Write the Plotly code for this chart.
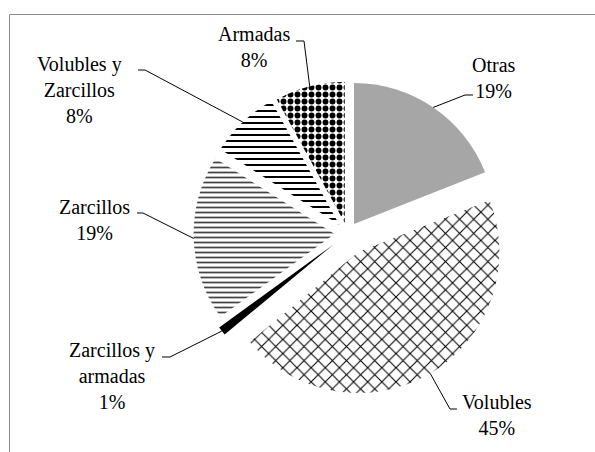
import math
import plotly.graph_objects as go

# ---- data ----
categories = ["Otras", "Volubles", "Zarcillos y armadas", "Zarcillos", "Volubles y Zarcillos", "Armadas"]
values = [19, 45, 1, 19, 8, 8]
label_text = ["Otras<br>19%", "Volubles<br>45%", "Zarcillos y<br>armadas<br>1%",
              "Zarcillos<br>19%", "Volubles y<br>Zarcillos<br>8%", "Armadas<br>8%"]

# ---- styles / layout ----
W, H = 595, 452
pulls = [0.082, 0.152, 0.128, 0.092, 0.085, 0.078]
colors = ["#a6a6a6", "white", "black", "white", "white", "white"]
pat_shape = ["", "x", "", "-", "-", "."]
pat_size = [8, 10, 8, 5, 6, 7]
pat_sol = [0.3, 0.2, 0.3, 0.35, 0.33, 0.55]
pat_fg = ["black", "black", "black", "#444444", "black", "black"]

dom_x = [0.3111, 0.8570]
dom_y = [0.1239, 0.8425]

# label centres (px) and leader elbows: (text_x, text_y, elbow_far_x, elbow_near_x, elbow_y)
label_pos = [
    (494, 78, 473, 465, 95),
    (497, 415, 457, 450, 409),
    (112, 376, 162, 170, 357),
    (95, 220, 137, 143, 213),
    (79, 90, 138, 145, 70),
    (254, 47, 296, 304, 41),
]

FONT = "Liberation Serif"

fig = go.Figure(go.Pie(
    labels=categories, values=values, sort=False, direction="clockwise", rotation=0,
    pull=pulls, textinfo="none", hoverinfo="skip", showlegend=False,
    domain=dict(x=dom_x, y=dom_y),
    marker=dict(colors=colors, line=dict(width=0),
                pattern=dict(shape=pat_shape, size=pat_size, solidity=pat_sol,
                             fgcolor=pat_fg, fillmode="replace")),
))

# pie geometry (as plotly computes it)
maxpull = max(pulls)
cx = W * (dom_x[0] + dom_x[1]) / 2
cy = H * (2 - dom_y[0] - dom_y[1]) / 2
r = min(W * (dom_x[1] - dom_x[0]), H * (dom_y[1] - dom_y[0])) / (2 + 2 * maxpull)

def px2paper(x, y):
    return x / W, 1 - y / H

total = sum(values)
cum = 0
shapes = []
annotations = []
for i, v in enumerate(values):
    theta = 2 * math.pi * (cum + v / 2) / total
    cum += v
    rr = r * (1 + pulls[i])
    ex = cx + rr * math.sin(theta)
    ey = cy - rr * math.cos(theta)
    tx, ty, fx, nx, ly = label_pos[i]
    pts = [px2paper(fx, ly), px2paper(nx, ly), px2paper(ex, ey)]
    path = "M {} {} L {} {} L {} {}".format(pts[0][0], pts[0][1], pts[1][0], pts[1][1], pts[2][0], pts[2][1])
    shapes.append(dict(type="path", path=path, xref="paper", yref="paper",
                       line=dict(color="black", width=1)))
    ax, ay = px2paper(tx, ty)
    annotations.append(dict(x=ax, y=ay, xref="paper", yref="paper", text=label_text[i],
                            showarrow=False, xanchor="center", yanchor="middle", align="center",
                            font=dict(family=FONT, size=20, color="black")))

# chart frame (top and left edges visible)
fx0, fy0 = px2paper(9.5, H + 5)
fx1, fy1 = px2paper(9.5, 14.5)
fx2, fy2 = px2paper(W + 5, 14.5)
shapes.append(dict(type="path", path="M {} {} L {} {} L {} {}".format(fx0, fy0, fx1, fy1, fx2, fy2),
                   xref="paper", yref="paper", line=dict(color="#8c8c8c", width=1)))

fig.update_layout(width=W, height=H, margin=dict(l=0, r=0, t=0, b=0),
                  paper_bgcolor="white", plot_bgcolor="white",
                  shapes=shapes, annotations=annotations)

fig.write_html("out.html", config={"displayModeBar": False},
               post_script="document.body.style.margin='0';document.body.style.overflow='hidden';")
